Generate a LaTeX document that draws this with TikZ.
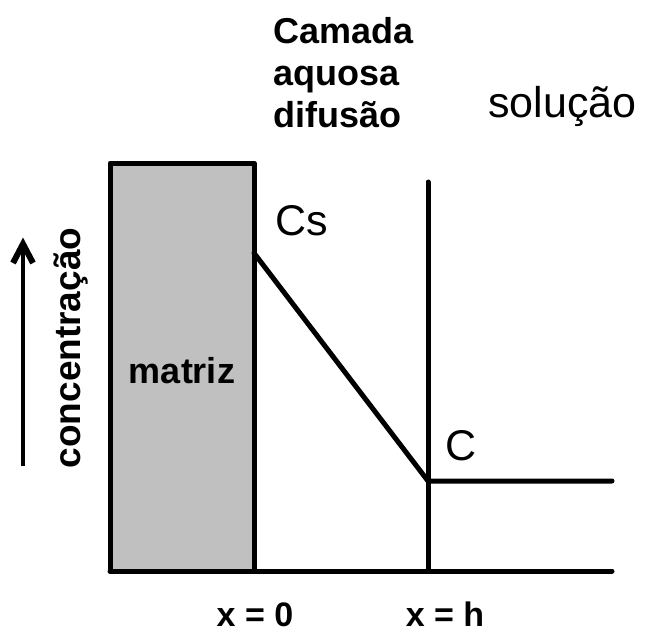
\documentclass[tikz,border=0pt]{standalone}
\usepackage{fontspec}
\setmainfont{Liberation Sans}
\usetikzlibrary{arrows.meta}
\tikzset{
  edge/.style={line width=5pt, line cap=round, line join=round},
  bold36/.style={font=\fontsize{36}{42}\selectfont\bfseries, inner sep=0pt},
  reg42/.style={font=\fontsize{43}{48}\selectfont, inner sep=0pt},
}
\begin{document}
\begin{tikzpicture}[x=1pt,y=-1pt]
\useasboundingbox (0,0) rectangle (645,632);
% coordinates
\coordinate (mtl) at (110,163);
\coordinate (mbr) at (254,571);
\coordinate (cs) at (254,253);
\coordinate (hc) at (428,481);
\coordinate (htop) at (428,182);
\coordinate (hbot) at (428,571);
\coordinate (bl) at (110,571);
\coordinate (br) at (612,571);
\coordinate (cr) at (612,481);
\coordinate (arrb) at (23,466);
\coordinate (arrt) at (23,244);
\coordinate (barbl) at (13,263);
\coordinate (barbr) at (33,263);
% matrix
\draw[edge, fill={rgb,255:red,192;green,192;blue,192}] (mtl) rectangle (mbr);
\draw[edge] (bl) -- (br);
\draw[edge] (htop) -- (hbot);
\draw[edge] (cs) -- (hc) -- (cr);
% arrow
\draw[line width=4.5pt] (arrb) -- (arrt);
\draw[line width=6pt, line join=miter, miter limit=4] (barbl) -- (arrt) -- (barbr);
% texts
\node[bold36, anchor=north west, align=left] (camada) at (273,17) {Camada\\aquosa\\difusão};
\node[reg42, anchor=base west] (solucao) at (488,117) {solução};
\node[reg42, anchor=base west] (cslab) at (275,235) {Cs};
\node[reg42, anchor=base west] (clab) at (445,460) {C};
\node[bold36, anchor=base] (matriz) at (182,383) {matriz};
\node[font=\fontsize{37}{42}\selectfont\bfseries, inner sep=0pt, rotate=90, anchor=base] (conc) at (80,348) {concentração};
\node[font=\fontsize{34}{40}\selectfont\bfseries, inner sep=0pt, anchor=base] (x0) at (255,626) {x = 0};
\node[font=\fontsize{34}{40}\selectfont\bfseries, inner sep=0pt, anchor=base] (xh) at (445,626) {x = h};
\end{tikzpicture}
\end{document}
